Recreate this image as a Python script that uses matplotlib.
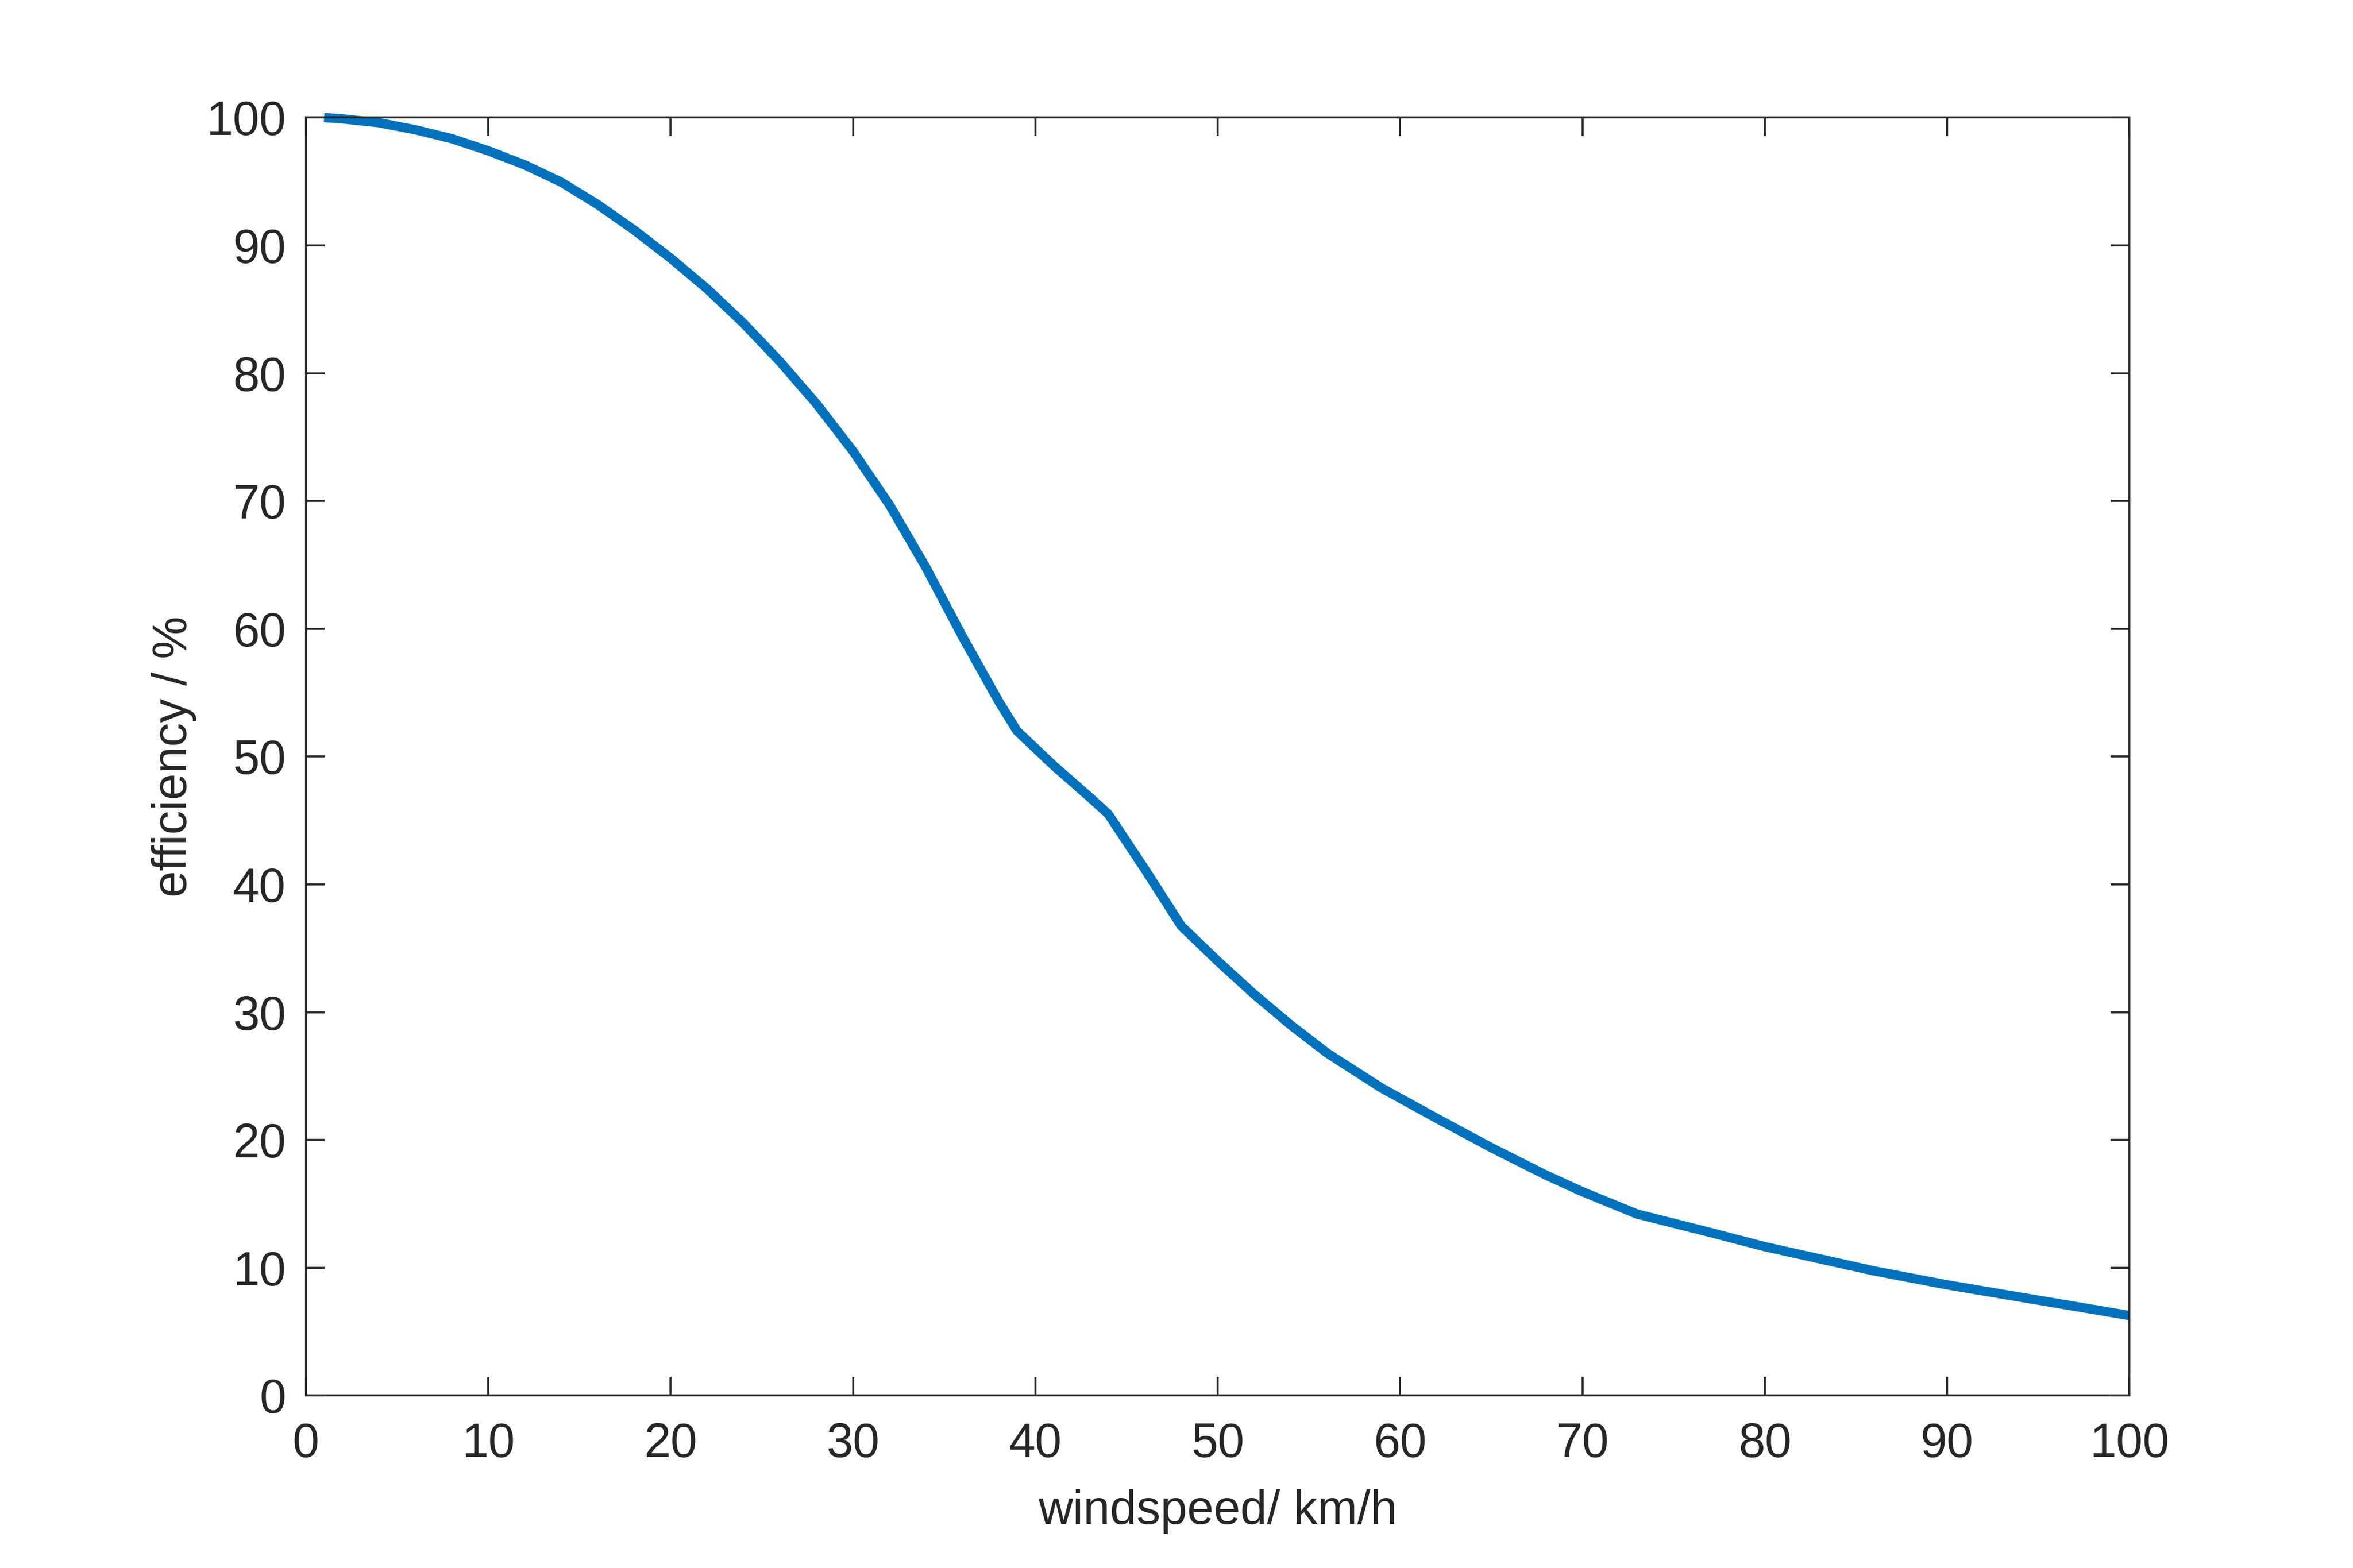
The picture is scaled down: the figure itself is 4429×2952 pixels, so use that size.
import matplotlib
matplotlib.use("Agg")
import matplotlib.pyplot as plt

# values
windspeed = [1, 2, 4, 6, 8, 10, 12, 14, 16, 18, 20, 22, 24, 26, 28, 30, 32,
             34, 36, 38, 39, 41, 43, 44, 46, 48, 50, 52, 54, 56, 59, 62, 65,
             68, 70, 73, 76.9, 80, 83, 86, 90, 95, 100]
efficiency = [100, 99.9, 99.6, 99.05, 98.35, 97.4, 96.3, 94.95, 93.2, 91.2,
              89.0, 86.6, 83.9, 80.9, 77.6, 73.9, 69.7, 64.8, 59.4, 54.3,
              52.0, 49.3, 46.8, 45.5, 41.2, 36.75, 34.0, 31.4, 29.0, 26.8,
              24.05, 21.7, 19.4, 17.25, 15.95, 14.2, 12.8, 11.65, 10.7, 9.75,
              8.66, 7.46, 6.26]
x_ticks = list(range(0, 101, 10))
y_ticks = list(range(0, 101, 10))

plt.rcParams["font.family"] = ["Liberation Sans", "DejaVu Sans"]

axis_color = "#262626"
line_color = "#0072BD"

fig = plt.figure(figsize=(4429 / 600, 2952 / 600), dpi=600)
fig.patch.set_facecolor("#ffffff")
ax = fig.add_axes([0.13, 0.11, 0.775, 0.815])

ax.plot(windspeed, efficiency, color=line_color, linewidth=2.1,
        solid_joinstyle="round", solid_capstyle="butt", clip_on=False)

ax.set_xlim(0, 100)
ax.set_ylim(0, 100)
ax.set_xticks(x_ticks)
ax.set_yticks(y_ticks)

for spine in ax.spines.values():
    spine.set_color(axis_color)
    spine.set_linewidth(0.45)

ax.tick_params(axis="both", which="major", direction="in", length=4.2,
               width=0.45, color=axis_color, labelcolor=axis_color,
               labelsize=10.8, top=True, right=True)
ax.tick_params(axis="x", pad=6.0)
ax.tick_params(axis="y", pad=4.5)

ax.set_xlabel("windspeed/ km/h", fontsize=10.8, color=axis_color)
ax.set_ylabel("efficiency / %", fontsize=10.8, color=axis_color)
ax.xaxis.set_label_coords(0.5, -0.073)
ax.yaxis.set_label_coords(-0.060, 0.5)

fig.savefig("out.png", dpi=600)
plt.close(fig)
